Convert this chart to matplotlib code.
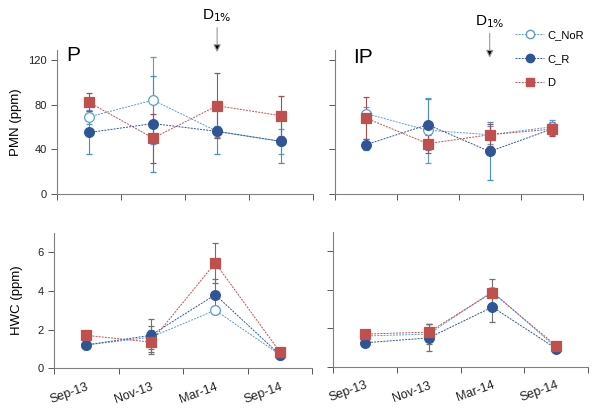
import numpy as np
import matplotlib
matplotlib.use('Agg')
import matplotlib.pyplot as plt
from matplotlib.lines import Line2D

plt.rcParams['font.family'] = ['Liberation Sans', 'DejaVu Sans']

months = ['Sep-13', 'Nov-13', 'Mar-14', 'Sep-14']
series = ['C_NoR', 'C_R', 'D']

# PMN (ppm), panel P
pmn_p = {'C_NoR': [69, 84, 56, 47], 'C_R': [55, 63, 56, 47], 'D': [82, 50, 79, 70]}
pmn_p_err = {'C_NoR': [6, 39, 5, 11], 'C_R': [19, 43, 20, 19], 'D': [8, 22, 29, 18]}
# PMN (ppm), panel IP
pmn_ip = {'C_NoR': [72, 57, 53, 60], 'C_R': [44, 62, 38, 58], 'D': [68, 45, 53, 58]}
pmn_ip_err = {'C_NoR': [6, 29, 8, 6], 'C_R': [5, 23, 26, 5], 'D': [19, 8, 10, 6]}
# HWC (ppm), panel P
hwc_p = {'C_NoR': [1.2, 1.6, 3.0, 0.7], 'C_R': [1.2, 1.7, 3.8, 0.7], 'D': [1.7, 1.35, 5.45, 0.85]}
hwc_p_err = {'C_NoR': [0.15, 0.6, 0.2, 0.1], 'C_R': [0.15, 0.85, 0.8, 0.1], 'D': [0.15, 0.6, 1.05, 0.1]}
# HWC (ppm), panel IP
hwc_ip = {'C_NoR': [1.6, 1.7, 3.9, 1.0], 'C_R': [1.25, 1.5, 3.1, 0.95], 'D': [1.7, 1.8, 3.85, 1.1]}
hwc_ip_err = {'C_NoR': [0.1, 0.5, 0.2, 0.1], 'C_R': [0.1, 0.7, 0.8, 0.1], 'D': [0.1, 0.4, 0.7, 0.1]}

colors = {'C_NoR': '#5b9bd5', 'C_R': '#2f5597', 'D': '#c0504d'}
ecol_top = {'C_NoR': '#5b9bd5', 'C_R': '#4a8cc4', 'D': '#a05050'}
markers = {'C_NoR': 'o', 'C_R': 'o', 'D': 's'}
axcol = '#808080'
dash = (0, (2, 1.2))

fig = plt.figure(figsize=(6, 4.16), dpi=100)
ax_tl = fig.add_axes([0.095, 0.534, 0.427, 0.346])
ax_tr = fig.add_axes([0.558, 0.534, 0.413, 0.346])
ax_bl = fig.add_axes([0.09, 0.115, 0.43, 0.325])
ax_br = fig.add_axes([0.555, 0.118, 0.425, 0.325])

x = np.arange(len(months)) + 0.5


def draw(ax, vals, errs, ecol):
    for s in series:
        mfc = 'white' if s == 'C_NoR' else colors[s]
        ec = ecol[s] if isinstance(ecol, dict) else ecol
        ax.errorbar(x, vals[s], yerr=errs[s], color=colors[s], ecolor=ec,
                    elinewidth=0.8, capsize=2.5, capthick=0.6,
                    linestyle=dash, linewidth=0.7,
                    marker=markers[s], markersize=7, mfc=mfc, mec=colors[s],
                    mew=0.9)
    ax.set_xlim(0, 4)
    for sp in ['top', 'right']:
        ax.spines[sp].set_visible(False)
    for sp in ['left', 'bottom']:
        ax.spines[sp].set_color(axcol)
        ax.spines[sp].set_linewidth(0.8)
    ax.set_xticks([0, 1, 2, 3, 4])
    ax.set_xticklabels([])
    ax.tick_params(axis='both', which='major', direction='out', length=4,
                   color='#555555', width=0.7, labelsize=8, labelcolor='#222222')


draw(ax_tl, pmn_p, pmn_p_err, ecol_top)
draw(ax_tr, pmn_ip, pmn_ip_err, ecol_top)
draw(ax_bl, hwc_p, hwc_p_err, '#707070')
draw(ax_br, hwc_ip, hwc_ip_err, '#707070')

for ax in (ax_tl, ax_tr):
    ax.set_ylim(0, 129)
    ax.set_yticks([0, 40, 80, 120])
for ax in (ax_bl, ax_br):
    ax.set_ylim(0, 7)
    ax.set_yticks([0, 2, 4, 6])
    ax.set_xticks(x, minor=True)
    ax.set_xticklabels(months, minor=True, rotation=20, ha='right',
                       rotation_mode='anchor', fontsize=9, color='#222222')
    ax.tick_params(axis='x', which='minor', length=0, pad=9)
ax_tr.set_yticklabels([])
ax_br.set_yticklabels([])

ax_tl.set_ylabel('PMN (ppm)', fontsize=9.5, labelpad=4)
ax_bl.set_ylabel('HWC (ppm)', fontsize=9.5, labelpad=10)

ax_tl.text(0.15, 124, 'P', fontsize=15, va='center')
ax_tr.text(0.3, 122, 'IP', fontsize=15, va='center')

# D1% markers: (text y, arrow start, arrow tip)
for ax, yt, y0, y1 in ((ax_tl, 160, 149, 127), (ax_tr, 154, 144, 122)):
    ax.annotate('', xy=(2.5, y1), xytext=(2.5, y0), xycoords='data',
                annotation_clip=False,
                arrowprops=dict(arrowstyle='-|>', lw=0.8,
                                mutation_scale=11, shrinkA=0, shrinkB=0,
                                edgecolor='#999999', facecolor='black'))
    ax.text(2.5, yt, r'D$_{1\%}$', fontsize=11, ha='center', va='center',
            clip_on=False)

handles = [Line2D([], [], color=colors[s], linestyle=dash, linewidth=0.7,
                  marker=markers[s], markersize=6,
                  mfc='white' if s == 'C_NoR' else colors[s], mec=colors[s])
           for s in series]
ax_tr.legend(handles, series, loc='upper left', bbox_to_anchor=(0.71, 1.17),
             frameon=False, fontsize=8, handlelength=2.6, labelspacing=1.25,
             handletextpad=0.3, borderaxespad=0)

fig.savefig('out.png', dpi=100)
